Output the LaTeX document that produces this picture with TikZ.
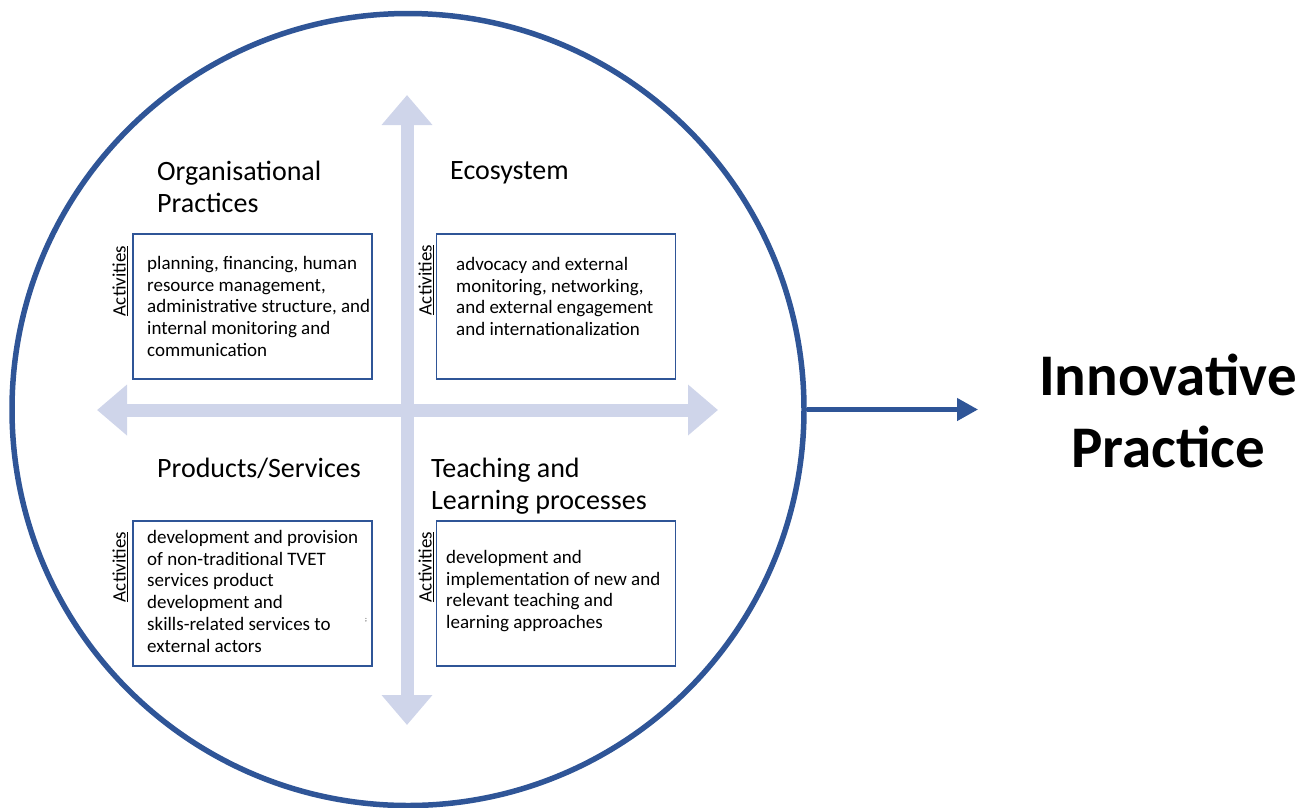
\documentclass[tikz,border=0pt]{standalone}
\usepackage{fontspec}
\setmainfont{Carlito}
\usepackage{tikz}
\usetikzlibrary{arrows.meta,positioning}
\usepackage{xcolor}
\definecolor{ringcolor}{RGB}{47, 85, 151}
\definecolor{crosscolor}{RGB}{207, 213, 234}

\begin{document}
\begin{tikzpicture}[x=1pt, y=-1pt,
    ring/.style={circle, draw=ringcolor, line width=5.5pt, minimum size=792pt, inner sep=0pt},
    cross/.style={crosscolor, line width=13pt, {Triangle[width=49pt,length=30pt]}-{Triangle[width=49pt,length=30pt]}},
    actbox/.style={rectangle, draw=ringcolor, line width=1.4pt, minimum width=239pt, minimum height=145pt},
    acttext/.style={anchor=north west, inner sep=0pt, align=left, font=\fontsize{19}{21.75}\selectfont},
    heading/.style={anchor=north west, inner sep=0pt, align=left, font=\fontsize{28}{32}\selectfont},
    actlabel/.style={rotate=90, inner sep=0pt, font=\fontsize{19}{21.75}\selectfont},
    arrow/.style={-{Triangle[width=22pt,length=21pt]}, ringcolor, line width=4.5pt}
]
    \useasboundingbox (0,0) rectangle (1306,807);

    % Outer ring
    \node[ring] (ring) at (408,409.5) {};

    % Cross of arrows
    \coordinate (west) at (97,410);
    \coordinate (east) at (718,410);
    \coordinate (north) at (407,95);
    \coordinate (south) at (407,725);
    \draw[cross] (west) -- (east);
    \draw[cross] (south) -- (north);

    % Headings
    \node[heading] (orghead) at (157,161) {Organisational\\Practices};
    \node[heading] (ecohead) at (450,161) {Ecosystem};
    \node[heading] (prodhead) at (157,458) {Products/Services};
    \node[heading] (teachhead) at (431,458) {Teaching and\\Learning processes};

    % Activity boxes
    \node[actbox] (orgbox) at (252.5,306.5) {};
    \node[actbox] (ecobox) at (556,306.5) {};
    \node[actbox] (prodbox) at (252.5,593.5) {};
    \node[actbox] (teachbox) at (556,593.5) {};

    % Box texts
    \node[acttext] (orgtext) at (147,256) {planning, financing, human\\resource management,\\administrative structure, and\\internal monitoring and\\communication};
    \node[acttext] (ecotext) at (456,257) {advocacy and external\\monitoring, networking,\\and external engagement\\and internationalization};
    \node[acttext] (prodtext) at (147,530) {development and provision\\of non-traditional TVET\\services product\\development and\\skills-related services to\\external actors};
    \node[acttext] (teachtext) at (446,550) {development and\\implementation of new and\\relevant teaching and\\learning approaches};
    \node[font=\fontsize{7}{8}\selectfont, inner sep=0pt] (stray) at (366,620) {;};

    % Side labels
    \node[actlabel] (orgact) at (120,281) {\underline{Activities}};
    \node[actlabel] (ecoact) at (426,280) {\underline{Activities}};
    \node[actlabel] (prodact) at (120,567) {\underline{Activities}};
    \node[actlabel] (teachact) at (426,567) {\underline{Activities}};

    % Result
    \node[align=center, font=\fontsize{59}{72}\selectfont\bfseries] (innov) at (1168,411) {Innovative\\Practice};
    \coordinate (tip) at (978,409.5);
    \draw[arrow] (ring.east) -- (tip);
\end{tikzpicture}
\end{document}
